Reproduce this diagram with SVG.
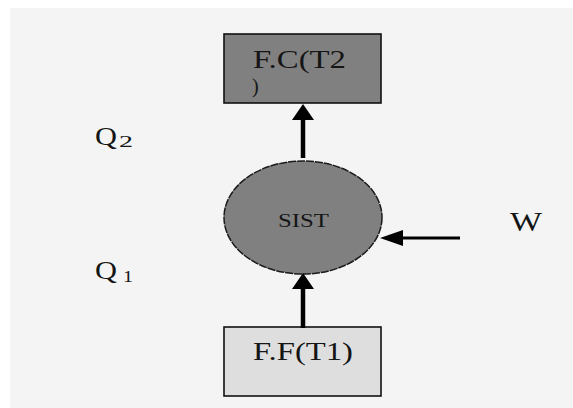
<svg xmlns="http://www.w3.org/2000/svg" width="573" height="408" viewBox="0 0 573 408">
  <style>
    .t { font-family: "Liberation Serif", "Times New Roman", serif; fill: #151515; }
    .box { stroke: #111; stroke-width: 1.6; }
    .conn { stroke: #000; fill: none; }
  </style>
  <defs>
    <marker id="arrV" markerUnits="userSpaceOnUse" viewBox="0 0 16 22" markerWidth="16" markerHeight="22" refX="8" refY="11" orient="auto">
      <path d="M0,0 L16,11 L0,22 Z" fill="#000"/>
    </marker>
    <marker id="arrH" markerUnits="userSpaceOnUse" viewBox="0 0 23 16" markerWidth="23" markerHeight="16" refX="15" refY="8" orient="auto">
      <path d="M0,0 L23,8 L0,16 Z" fill="#000"/>
    </marker>
  </defs>
  <rect x="10" y="8" width="563" height="400" fill="#f4f4f4"/>

  <g id="hot">
    <rect class="box" x="224" y="34" width="157" height="69" fill="#808080"/>
    <text class="t" x="253" y="68" font-size="25" textLength="93" lengthAdjust="spacingAndGlyphs">F.C(T2</text>
    <text class="t" x="252" y="93" font-size="20">)</text>
  </g>

  <g id="sist">
    <ellipse cx="303" cy="217.5" rx="79" ry="56.5" fill="#808080" stroke="#1a1a1a" stroke-width="1.5" stroke-dasharray="8 1"/>
    <text class="t" x="278" y="227" font-size="19" textLength="51" lengthAdjust="spacingAndGlyphs">SIST</text>
  </g>

  <g id="cold">
    <rect class="box" x="224" y="327" width="157" height="69" fill="#dedede"/>
    <text class="t" x="253" y="360" font-size="25" textLength="100" lengthAdjust="spacingAndGlyphs">F.F(T1)</text>
  </g>

  <g id="q2">
    <text class="t" x="95" y="145" font-size="26" textLength="22" lengthAdjust="spacingAndGlyphs">Q</text>
    <text class="t" x="119" y="147" font-size="16" textLength="14" lengthAdjust="spacingAndGlyphs">2</text>
  </g>

  <g id="q1">
    <text class="t" x="95" y="279" font-size="26" textLength="22" lengthAdjust="spacingAndGlyphs">Q</text>
    <text class="t" x="123" y="282" font-size="16" textLength="10" lengthAdjust="spacingAndGlyphs">1</text>
  </g>

  <g id="w">
    <text class="t" x="510" y="231" font-size="27" textLength="32" lengthAdjust="spacingAndGlyphs">W</text>
  </g>

  <g id="connectors">
    <line class="conn" x1="303" y1="158" x2="303" y2="112" stroke-width="4.5" marker-end="url(#arrV)"/>
    <line class="conn" x1="303" y1="328" x2="303" y2="281" stroke-width="4.5" marker-end="url(#arrV)"/>
    <line class="conn" x1="460" y1="238" x2="388" y2="238" stroke-width="3.2" marker-end="url(#arrH)"/>
  </g>
</svg>
